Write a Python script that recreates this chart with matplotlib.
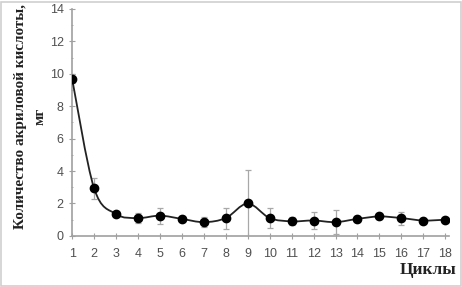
import numpy as np
import matplotlib
matplotlib.use("Agg")
import matplotlib.pyplot as plt
from matplotlib.path import Path
from matplotlib.patches import PathPatch, Rectangle
from matplotlib.ticker import MultipleLocator

cycles = list(range(1, 19))
values = [9.7, 2.95, 1.35, 1.1, 1.25, 1.05, 0.85, 1.1, 2.0, 1.1, 0.9, 0.95, 0.85, 1.05, 1.2, 1.1, 0.95, 1.0]
errors = [0.3, 0.65, 0.1, 0.3, 0.5, 0.15, 0.3, 0.65, 2.05, 0.6, 0.25, 0.55, 0.75, 0.15, 0.15, 0.4, 0.1, 0.1]

fig = plt.figure(figsize=(4.62, 2.87), dpi=100)
fig.patches.append(Rectangle((0.003, 0.004), 0.994, 0.99, transform=fig.transFigure,
                             fill=False, edgecolor="#d0d0d0", linewidth=1.2))
ax = fig.add_axes([0.156, 0.178, 0.815, 0.791])

# smoothed line (Catmull-Rom as cubic Bezier segments)
x = np.array(cycles, float)
y = np.array(values, float)
verts = [(x[0], y[0])]
codes = [Path.MOVETO]
n = len(x)
for i in range(n - 1):
    p0 = (x[i - 1], y[i - 1]) if i > 0 else (x[i], y[i])
    p1 = (x[i], y[i])
    p2 = (x[i + 1], y[i + 1])
    p3 = (x[i + 2], y[i + 2]) if i + 2 < n else p2
    c1 = (p1[0] + (p2[0] - p0[0]) / 6, p1[1] + (p2[1] - p0[1]) / 6)
    c2 = (p2[0] - (p3[0] - p1[0]) / 6, p2[1] - (p3[1] - p1[1]) / 6)
    verts += [c1, c2, p2]
    codes += [Path.CURVE4] * 3
ax.add_patch(PathPatch(Path(verts, codes), fill=False, edgecolor="#222222", linewidth=1.3, zorder=3))

ax.errorbar(cycles, values, yerr=errors, fmt="none", ecolor="#a8a8a8", elinewidth=0.9,
            capsize=2.5, capthick=0.9, zorder=2)
ax.plot(cycles, values, "o", color="black", markersize=6, zorder=4)

ax.set_xlim(1, 18.15)
ax.set_ylim(0, 14)
ax.set_xticks(cycles)
ax.yaxis.set_major_locator(MultipleLocator(2))
ax.yaxis.set_minor_locator(MultipleLocator(1))
for s in ["top", "right"]:
    ax.spines[s].set_visible(False)
for s in ["left", "bottom"]:
    ax.spines[s].set_color("#a0a0a0")
    ax.spines[s].set_linewidth(1.2)
ax.tick_params(axis="both", which="major", direction="inout", length=4, color="#a0a0a0",
               labelsize=9, labelcolor="#505050")
ax.tick_params(axis="y", which="minor", direction="inout", length=2, color="#a0a0a0")
ax.tick_params(axis="x", pad=7)
ax.tick_params(axis="y", pad=4)
for lbl in ax.get_xticklabels() + ax.get_yticklabels():
    lbl.set_family("Liberation Sans")

fig.text(0.066, 0.595, "Количество акриловой кислоты,\nмг", rotation=90, ha="center", va="center",
         family="Liberation Serif", fontweight="bold", fontsize=11, linespacing=1.6, color="#222222")
fig.text(0.987, 0.058, "Циклы", ha="right", va="center", family="Liberation Serif",
         fontweight="bold", fontsize=12.5, color="#222222")

fig.savefig("out.png", dpi=100)
